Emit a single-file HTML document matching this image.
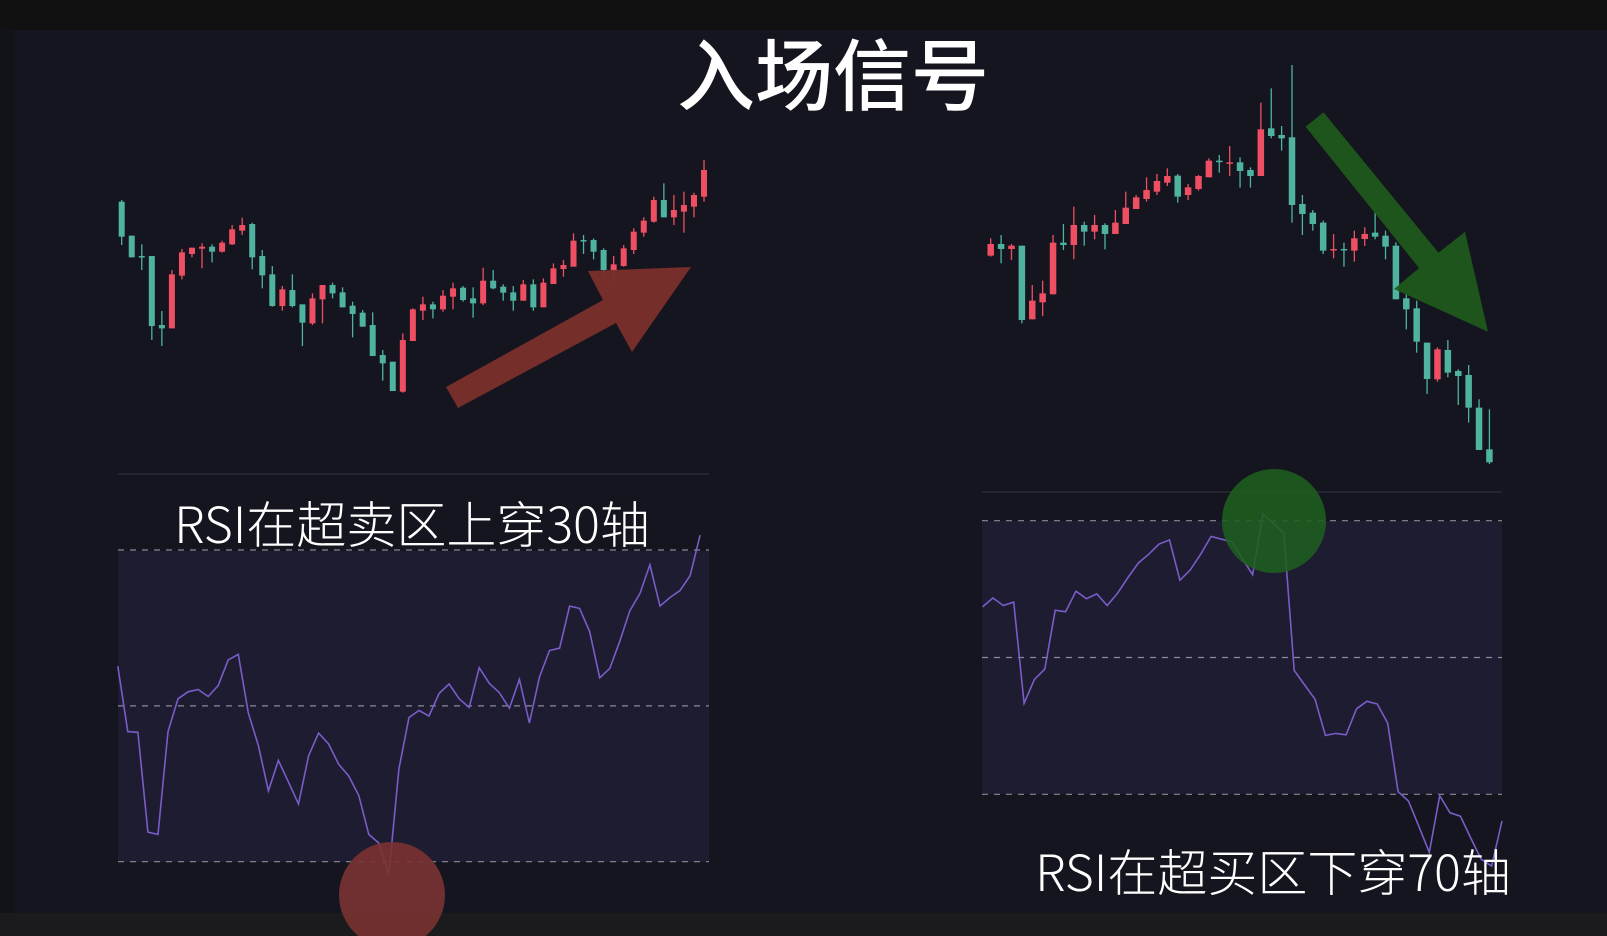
<!DOCTYPE html>
<html><head><meta charset="utf-8">
<style>
html,body{margin:0;padding:0;background:#14151f;}
svg{display:block;}
text{font-family:"Liberation Sans","Noto Sans CJK SC",sans-serif;}
</style></head>
<body>
<svg id="chart" width="1607" height="936" viewBox="0 0 1607 936" xmlns="http://www.w3.org/2000/svg">
  <rect x="0" y="0" width="1607" height="936" fill="#14151f"/>
  <rect x="0" y="0" width="1607" height="30" fill="#111112"/>
  <rect x="0" y="30" width="14" height="884" fill="#121319"/>
  <rect x="0" y="913" width="1607" height="23" fill="#1b1b1d"/>
  <text x="833" y="104" font-size="78" fill="#ffffff" text-anchor="middle" font-weight="500" style="font-family:'Noto Sans CJK SC',sans-serif">入场信号</text>

  <line x1="118" y1="474" x2="709" y2="474" stroke="#2a2b36" stroke-width="1.5"/>
  <line x1="982" y1="492" x2="1502" y2="492" stroke="#2a2b36" stroke-width="1.5"/>

  <rect x="118" y="551" width="591" height="311" fill="#1e1c30"/>
  <rect x="982" y="521" width="520" height="273" fill="#1e1c30"/>

  <g id="lc"></g>
  <g id="rc"></g>
  <g id="lr"></g>
  <g id="rr"></g>

  <polygon points="446,387 603,300 588,271 691,267 632,352 616,323 458,408" fill="#7a2f2a" opacity="0.95"/>
  <polygon points="1305.6,126.7 1323.5,112.3 1438.5,252.7 1465,231.7 1488,331.7 1394,289 1419,268" fill="#1e5a1c" opacity="0.93"/>
  <circle cx="392" cy="895" r="53" fill="#7a3232" opacity="0.9"/>
  <circle cx="1274" cy="521" r="52" fill="#1f5e1f" opacity="0.88"/>

  <text x="412" y="543" font-size="50" fill="#ffffff" text-anchor="middle" style="font-family:'Noto Sans CJK SC',sans-serif;font-weight:300">RSI在超卖区上穿30轴</text>
  <text x="1273" y="891" font-size="50" fill="#ffffff" text-anchor="middle" style="font-family:'Noto Sans CJK SC',sans-serif;font-weight:300">RSI在超买区下穿70轴</text>
</svg>
<script>
// Left candles [open, close, high, low]
const leftOpen=[645,543,482,482,275,265,423,488,504,510,495,517,558,578,482,427,332,380,337,280,352,395,373,333,312,275,185,165,75,227,318,337,322,360,387,355,340,408,390,373,348,397,328,398,443,450,530,530,500,440,452,500,552,585,650,598,615,630,660];
const leftClose=[540,478,480,272,265,427,493,507,510,495,522,562,575,478,424,332,382,332,282,355,395,370,328,308,270,182,160,77,230,322,337,322,363,385,350,340,408,385,372,348,397,328,402,445,455,528,528,495,440,457,505,555,588,650,598,620,635,665,740];
const leftHigh=[650,543,517,482,317,440,503,507,520,517,528,575,597,582,500,452,392,427,337,370,395,402,388,345,320,313,200,165,250,325,360,345,380,402,392,388,447,440,397,392,410,412,415,460,470,550,545,535,505,482,515,565,598,660,700,665,675,672,770];
const leftLow=[515,478,440,230,212,265,412,478,445,463,492,515,545,442,385,330,318,328,212,275,280,355,328,238,270,182,108,77,72,227,290,295,315,322,345,297,335,382,348,318,348,318,328,398,420,450,488,472,412,395,450,488,540,582,598,575,552,598,645];
// Right candles
const rightOpen=[713,748,733,743,522,573,597,752,745,805,785,805,778,808,853,883,905,932,953,895,913,948,998,990,993,970,952,1095,1075,1068,868,842,812,730,733,728,763,782,773,743,585,555,452,342,430,367,355,257,132];
const rightClose=[748,733,743,520,578,600,752,745,805,785,805,778,812,857,888,910,937,952,890,918,952,998,995,993,967,952,1092,1072,1065,865,838,808,728,733,730,765,778,770,740,582,552,455,343,432,362,352,257,130,93];
const rightHigh=[765,775,748,743,625,638,775,808,860,815,835,810,850,905,895,948,958,975,958,928,955,1005,1015,1042,1008,978,1172,1215,1102,1285,895,850,818,778,752,788,798,845,788,753,600,578,452,438,460,372,385,282,252];
const rightLow=[710,690,700,510,522,532,597,730,702,743,762,732,778,808,853,875,895,922,872,880,908,948,962,952,917,917,952,1065,1028,812,775,788,718,705,680,695,742,762,702,582,492,422,298,335,348,265,212,130,88];
// RSI series
const leftRsi=[55.1,46.7,46.6,33.8,33.5,46.7,50.9,51.8,52.1,51.2,52.6,55.9,56.6,49.1,44.9,39.1,43.0,40.2,37.4,43.6,46.5,45.1,42.5,41.0,38.5,33.5,32.4,28.4,41.9,48.5,49.4,48.7,51.6,52.8,50.9,49.8,54.9,52.9,51.7,49.7,53.4,47.8,53.7,57.1,57.4,62.8,62.5,59.5,53.6,54.8,58.3,62.2,64.4,68.1,62.8,63.9,64.8,66.7,71.9];
const rightRsi=[57.4,58.7,57.6,58.1,43.3,46.8,48.3,56.9,56.7,59.7,58.6,59.3,57.6,59.4,61.7,63.8,65.1,66.6,67.2,61.3,62.8,65.1,67.7,67.3,66.9,64.5,62.1,71.0,69.6,68.2,48.1,46.0,43.9,38.6,38.9,38.7,42.5,43.6,43.2,40.4,30.4,29.0,25.3,21.5,29.8,27.3,26.8,23.6,20.5,19.5,26.1];
const rsiLevels=[70,50,30];

const NS='http://www.w3.org/2000/svg';
function lin(d0,d1,r0,r1){return v=>r0+(v-d0)*(r1-r0)/(d1-d0);}
function mk(tag,attrs,parent){const e=document.createElementNS(NS,tag);for(const k in attrs)e.setAttribute(k,attrs[k]);parent.appendChild(e);return e;}

function drawCandles(g,O,C,H,L,xs,ys,w,prefix){
  for(let i=0;i<O.length;i++){
    const up=C[i]>=O[i];const col=up?'#ef4f62':'#4fb3a0';const x=xs(i);
    const wick=mk('line',{x1:x,x2:x,y1:ys(H[i]),y2:ys(L[i]),stroke:col,'stroke-width':1.3},g);
    
    
    const t=ys(Math.max(O[i],C[i])),b=ys(Math.min(O[i],C[i]));
    const body=mk('rect',{x:x-w/2,y:t,width:w,height:Math.max(1.5,b-t),fill:col},g);
    
    
  }
}
drawCandles(document.getElementById('lc'),leftOpen,leftClose,leftHigh,leftLow,lin(0,1,121.7,131.74),lin(0,800,416.7,150),6,'left');
drawCandles(document.getElementById('rc'),rightOpen,rightClose,rightHigh,rightLow,lin(0,1,990.7,1001.09),lin(0,1300,493.3,60),6.5,'right');

function drawRsi(g,vals,xs,ys,x0,x1,prefix){
  rsiLevels.forEach(l=>{
    const ln=mk('line',{x1:x0,x2:x1,y1:ys(l),y2:ys(l),stroke:'#8a8a96','stroke-width':1.2,'stroke-dasharray':'6,6'},g);
    
    
  });
  const pts=vals.map((v,i)=>xs(i).toFixed(1)+','+ys(v).toFixed(1)).join(' ');
  const pl=mk('polyline',{points:pts,fill:'none',stroke:'#7a5cc8','stroke-width':1.6},g);
  
  
}
drawRsi(document.getElementById('lr'),leftRsi,lin(0,1,117.8,127.84),lin(30,70,861.7,550),118,709,'left');
drawRsi(document.getElementById('rr'),rightRsi,lin(0,1,982.5,992.89),lin(30,70,794.3,520.7),982,1502,'right');
</script>
</body></html>
